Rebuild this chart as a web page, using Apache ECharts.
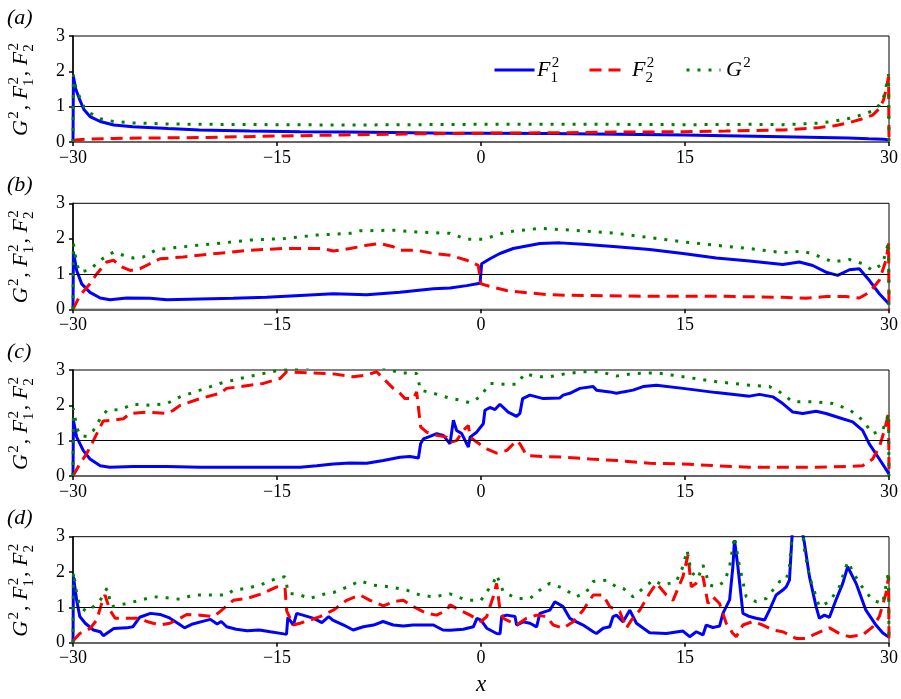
<!DOCTYPE html>
<html><head><meta charset="utf-8">
<script src="https://cdn.jsdelivr.net/npm/echarts@6/dist/echarts.min.js"></script>
<style>html,body{margin:0;padding:0;background:#fff}#c{width:901px;height:699px}</style>
</head><body><div id="c"></div>
<script>
// ---------------- data ----------------
const panelLabels = ['(a)', '(b)', '(c)', '(d)'];
const seriesNames = ['F1', 'F2', 'G'];
const xMin = -30, xMax = 30, xStep = 15;
const yMin = 0, yMax = 3, yStep = 1;
const refLine = 1;

// panel (a)
const aF1 = [[-30,0],[-29.97,1.85],[-29.8,1.5],[-29.5,1.19],[-29.2,0.92],[-28.75,0.72],[-28,0.58],[-27,0.48],[-25.6,0.43],[-23,0.38],[-20.7,0.34],[-17,0.31],[-13.3,0.29],[-10,0.28],[-5,0.26],[-2.3,0.25],[0,0.25],[5,0.24],[10,0.22],[14.9,0.2],[18,0.18],[22.2,0.15],[25,0.13],[27,0.11],[28.5,0.09],[29.6,0.08],[30,0.06]];
const aF2 = [[-30,0.02],[-29.8,0.06],[-29,0.08],[-27,0.1],[-25,0.11],[-20,0.13],[-15,0.17],[-10,0.2],[-5,0.23],[0,0.25],[5,0.26],[10,0.28],[14.9,0.29],[18,0.31],[22.2,0.34],[24.7,0.4],[26,0.46],[27.1,0.55],[28,0.65],[28.8,0.76],[29.3,0.95],[29.6,1.19],[29.8,1.5],[29.97,1.85],[30,0]];
const aG = [[-30,0],[-29.97,1.9],[-29.8,1.56],[-29.5,1.26],[-29.2,1.0],[-28.75,0.82],[-28,0.66],[-27,0.58],[-25.6,0.54],[-23,0.51],[-20,0.5],[-15,0.49],[-10,0.48],[-5,0.49],[0,0.5],[5,0.5],[10,0.5],[15,0.49],[20,0.5],[22.2,0.49],[24.7,0.53],[26,0.59],[27.1,0.67],[28,0.77],[28.8,0.88],[29.3,1.05],[29.6,1.27],[29.8,1.58],[29.97,1.92],[30,0]];

// panel (b)
const bF1 = [[-30,0],[-29.97,1.62],[-29.73,1.1],[-29.36,0.72],[-28.75,0.48],[-28,0.32],[-27.28,0.27],[-26.05,0.32],[-24.34,0.31],[-23.1,0.27],[-20.66,0.29],[-18.21,0.31],[-15.76,0.34],[-13.3,0.39],[-10.86,0.44],[-8.4,0.41],[-5.96,0.48],[-3.5,0.58],[-2.28,0.6],[-1.05,0.67],[-0.07,0.74],[0.05,1.29],[0.66,1.43],[1.39,1.58],[2.37,1.72],[3.35,1.79],[4.33,1.86],[5.8,1.88],[7.51,1.84],[9.96,1.77],[12.4,1.69],[14.85,1.58],[17.3,1.45],[19.75,1.37],[22.19,1.27],[23.41,1.34],[24.39,1.24],[25.37,1.05],[26.23,0.96],[27.09,1.12],[27.82,1.15],[28.55,0.82],[29.29,0.44],[30,0.15]];
const bF2 = [[-30,0],[-29.5,0.39],[-28.75,0.72],[-28.26,1.0],[-27.52,1.34],[-27.03,1.39],[-26.42,1.2],[-25.8,1.1],[-25.07,1.15],[-24.34,1.29],[-23.6,1.43],[-21.9,1.48],[-19.44,1.58],[-16.99,1.67],[-14.53,1.72],[-11.6,1.72],[-10.86,1.65],[-9.63,1.72],[-8.4,1.81],[-7.43,1.86],[-6.45,1.77],[-5.96,1.67],[-4.73,1.67],[-3.5,1.58],[-2.28,1.53],[-1.05,1.39],[-0.2,1.24],[0,0.72],[0.66,0.65],[1.88,0.53],[3.35,0.47],[5.06,0.41],[7.51,0.39],[12.4,0.37],[17.3,0.37],[22.19,0.34],[23.9,0.31],[25.37,0.36],[26.84,0.36],[27.82,0.32],[28.55,0.48],[29.29,0.82],[29.78,1.39],[29.97,1.86],[30,0]];
const bG = [[-30,0],[-29.97,1.86],[-29.73,1.29],[-29.5,1.05],[-28.75,1.12],[-28,1.39],[-27.03,1.62],[-26.3,1.53],[-25.56,1.45],[-24.83,1.48],[-23.85,1.69],[-21.9,1.77],[-19.44,1.86],[-16.99,1.96],[-14.53,2.0],[-12.08,2.1],[-9.63,2.15],[-8.9,2.22],[-6.45,2.24],[-4.73,2.19],[-2.28,2.15],[-1.05,1.98],[0.17,1.98],[1.88,2.19],[4.33,2.29],[7.51,2.22],[9.96,2.15],[12.4,2.03],[14.85,1.91],[17.3,1.81],[19.75,1.72],[22.19,1.6],[23.66,1.65],[24.64,1.53],[25.87,1.34],[27.09,1.41],[28.06,1.29],[28.8,1.1],[29.53,1.29],[29.97,1.9],[30,0]];

// panel (c)
const cF1 = [[-30,0],[-29.97,1.58],[-29.73,1.1],[-29.24,0.72],[-28.75,0.48],[-28,0.29],[-27.3,0.25],[-25.56,0.27],[-23.1,0.27],[-20.66,0.25],[-18.2,0.25],[-15.76,0.25],[-13.3,0.25],[-12.08,0.29],[-10.86,0.34],[-9.63,0.37],[-8.4,0.36],[-7.18,0.44],[-5.96,0.53],[-5.22,0.55],[-4.6,0.51],[-4.44,0.91],[-4.24,1.05],[-3.75,1.12],[-3.26,1.2],[-2.77,1.15],[-2.28,0.91],[-2.03,1.58],[-1.79,1.29],[-1.42,1.2],[-0.93,0.82],[-0.8,1.1],[-0.32,1.24],[0.17,1.48],[0.29,1.86],[0.66,1.94],[1.03,1.88],[1.39,2.03],[2.0,1.81],[2.62,1.69],[2.86,1.77],[3.06,2.19],[3.6,2.29],[4.58,2.19],[5.8,2.21],[6.04,2.29],[6.53,2.34],[7.27,2.48],[8.25,2.53],[8.49,2.43],[9.47,2.38],[9.96,2.34],[10.45,2.38],[11.18,2.43],[11.92,2.53],[12.9,2.57],[14.85,2.48],[17.3,2.36],[19.75,2.26],[20.48,2.31],[21.46,2.24],[22.19,2.05],[22.93,1.81],[23.66,1.77],[24.64,1.83],[25.37,1.77],[26.35,1.65],[27.33,1.53],[28.06,1.29],[28.55,0.91],[29.29,0.48],[30,0.06]];
const cF2 = [[-30,0],[-29.5,0.34],[-29,0.63],[-28.5,1.0],[-28,1.39],[-27.77,1.56],[-27.03,1.58],[-26.3,1.62],[-25.8,1.77],[-24.58,1.81],[-23.1,1.77],[-22.62,1.86],[-22.13,2.0],[-20.66,2.19],[-19.19,2.34],[-18.7,2.48],[-17.7,2.53],[-16,2.62],[-14.78,2.76],[-14.29,2.95],[-12.8,2.92],[-10.86,2.89],[-9.39,2.81],[-8.4,2.86],[-7.67,2.95],[-7.18,2.76],[-6.45,2.48],[-5.96,2.34],[-5.59,2.19],[-4.98,2.19],[-4.73,2.38],[-4.44,1.39],[-4,1.24],[-3.26,1.15],[-2.52,1.1],[-2.28,0.95],[-1.79,1.0],[-1.3,1.29],[-0.93,1.43],[-0.8,1.1],[-0.32,0.96],[0.42,0.77],[1.15,0.65],[1.88,0.72],[2.62,1.0],[2.86,0.91],[3.35,0.58],[4.58,0.55],[6.29,0.53],[8,0.48],[9.96,0.44],[12.4,0.36],[14.85,0.34],[17.3,0.29],[19.75,0.25],[22.19,0.25],[24.64,0.25],[27.09,0.27],[28.06,0.29],[28.8,0.48],[29.29,0.82],[29.66,1.29],[29.97,1.77],[30,0]];
const cG = [[-30,0],[-29.97,1.91],[-29.73,1.39],[-29.5,1.15],[-29,1.12],[-28.5,1.29],[-28,1.62],[-27.5,1.86],[-26.54,1.88],[-25.56,2.03],[-24.34,2.0],[-23.1,2.05],[-22.13,2.24],[-20.66,2.43],[-19.19,2.62],[-17.72,2.76],[-16.25,2.88],[-15.02,2.98],[-13.3,3.05],[-11,3.15],[-9,3.15],[-7.5,3.1],[-6.69,3.0],[-5.96,2.92],[-4.73,2.9],[-4.44,2.43],[-3.5,2.34],[-2.28,2.2],[-1.54,2.15],[-0.8,2.07],[-0.07,2.24],[0.66,2.62],[1.64,2.6],[2.62,2.6],[3.23,2.9],[4.09,2.81],[5.06,2.81],[6.29,2.9],[7.51,2.95],[8.74,2.95],[9.96,2.83],[11.18,2.9],[12.9,2.92],[14.85,2.81],[17.3,2.67],[19.75,2.57],[21.21,2.53],[21.95,2.38],[22.93,2.1],[24.64,2.1],[25.87,2.05],[27.09,1.88],[28.06,1.58],[28.8,1.2],[29.53,1.29],[29.97,1.77],[30,0]];

// panel (d)
const dF1 = [[-30,0],[-29.97,1.87],[-29.73,1.2],[-29.5,0.74],[-29.1,0.55],[-28.5,0.36],[-28,0.31],[-27.77,0.2],[-27,0.4],[-26.05,0.42],[-25.6,0.45],[-25.1,0.72],[-24.3,0.83],[-23.6,0.8],[-22.9,0.7],[-22.1,0.5],[-21.8,0.42],[-21.2,0.53],[-20.4,0.61],[-19.9,0.66],[-19.4,0.53],[-19.1,0.6],[-18.7,0.45],[-18,0.38],[-17.2,0.34],[-16.3,0.36],[-15.5,0.31],[-14.5,0.25],[-14.3,0.24],[-14.2,0.72],[-13.8,0.5],[-13.55,0.83],[-13.1,0.78],[-12.3,0.69],[-11.7,0.57],[-11.2,0.74],[-10.9,0.64],[-10.1,0.5],[-9.4,0.36],[-8.65,0.45],[-7.9,0.5],[-7.2,0.6],[-6.45,0.5],[-5.7,0.47],[-5,0.5],[-4.25,0.5],[-3.5,0.5],[-2.8,0.36],[-2.28,0.35],[-1.3,0.38],[-0.56,0.45],[-0.3,0.69],[0,0.64],[0.42,0.41],[1.15,0.26],[1.4,0.25],[1.52,0.74],[1.9,0.78],[2.5,0.74],[2.62,0.5],[3.1,0.59],[3.6,0.55],[4.09,0.45],[4.33,0.83],[5.06,0.92],[5.43,1.16],[6.04,1.02],[6.53,0.69],[7.02,0.59],[7.51,0.5],[8.25,0.31],[8.49,0.26],[8.98,0.41],[9.47,0.45],[9.71,0.74],[9.96,0.78],[10.45,0.59],[10.94,0.92],[11.43,0.55],[12.4,0.28],[13.63,0.26],[14.85,0.33],[15.34,0.17],[15.83,0.31],[16.32,0.22],[16.56,0.5],[17.05,0.43],[17.54,0.47],[17.79,0.83],[18.28,1.21],[18.52,2.15],[18.64,2.9],[18.89,2.15],[19.26,0.83],[19.75,0.74],[20.23,0.69],[20.85,0.64],[21.21,0.92],[21.7,1.35],[22.19,1.49],[22.44,1.58],[22.68,1.77],[22.9,3.2],[23.2,4.0],[23.6,3.2],[23.78,2.82],[24.15,1.87],[24.64,1.02],[24.88,0.69],[25.25,0.78],[25.62,0.72],[26.1,1.21],[26.6,1.68],[26.96,2.15],[27.58,1.68],[28.3,0.92],[29.04,0.5],[29.53,0.28],[30,0.15]];
const dF2 = [[-30,0.05],[-29.5,0.26],[-28.75,0.4],[-28.26,0.64],[-27.9,1.1],[-27.65,1.35],[-27.28,0.92],[-26.9,0.69],[-25.07,0.69],[-24.58,0.6],[-23.6,0.5],[-22.87,0.55],[-22.13,0.69],[-21.64,0.8],[-20.66,0.78],[-19.68,0.74],[-19.19,0.88],[-18.21,1.2],[-17.23,1.25],[-16,1.4],[-15.02,1.58],[-14.41,1.55],[-14.29,0.9],[-13.8,0.5],[-13.31,0.55],[-12.57,0.64],[-11.84,0.74],[-11.35,0.83],[-10.86,0.92],[-9.88,1.2],[-8.9,1.35],[-8.16,1.2],[-7.18,1.04],[-6.45,1.16],[-5.71,1.2],[-4.98,1.02],[-4,0.83],[-3.26,0.78],[-2.52,0.92],[-2.28,1.07],[-1.54,0.92],[-0.8,0.78],[0,0.6],[0.42,0.74],[0.9,1.3],[1.15,1.68],[1.4,0.92],[1.64,0.69],[2.62,0.5],[3.35,0.69],[4.09,0.78],[4.82,0.74],[5.31,0.5],[6.04,0.41],[6.78,0.59],[7.51,0.92],[8.25,1.35],[8.98,1.35],[9.47,1.02],[10.2,0.88],[10.69,0.41],[11.06,0.64],[11.67,0.92],[12.4,1.4],[12.9,1.68],[13.63,1.35],[14.12,1.2],[14.85,1.87],[15.22,2.48],[15.46,1.58],[15.83,1.68],[16.32,1.87],[16.69,1.11],[17.05,1.3],[17.54,1.11],[18.03,0.55],[18.52,0.26],[18.77,0.17],[19.26,0.5],[19.99,0.6],[20.72,0.5],[21.46,0.36],[22.19,0.31],[23.17,0.12],[23.9,0.12],[24.64,0.26],[25.62,0.42],[26.35,0.26],[27.09,0.17],[28.06,0.22],[28.8,0.45],[29.29,0.74],[29.78,1.4],[29.97,1.87],[30,0]];
const dG = [[-30,0],[-29.97,2.0],[-29.73,1.4],[-29.5,1.02],[-29,0.88],[-28.5,1.02],[-28,1.2],[-27.5,1.54],[-27.16,1.02],[-26.05,1.11],[-25.07,1.2],[-24.1,1.3],[-23.1,1.27],[-22.13,1.23],[-21.15,1.35],[-20.17,1.35],[-19.44,1.35],[-18.7,1.35],[-18.2,1.49],[-17.23,1.54],[-16.25,1.63],[-15.02,1.82],[-14.41,1.87],[-14.17,1.4],[-13.31,1.35],[-12.57,1.25],[-11.84,1.35],[-10.86,1.42],[-9.88,1.57],[-8.9,1.75],[-7.92,1.63],[-6.69,1.58],[-5.47,1.49],[-4.49,1.35],[-3.5,1.3],[-2.28,1.38],[-1.05,1.2],[0,1.2],[0.42,1.44],[0.9,1.68],[1.15,1.92],[1.64,1.44],[2.62,1.25],[3.6,1.25],[4.33,1.49],[5.06,1.68],[6.04,1.54],[7.02,1.3],[7.76,1.44],[8.25,1.73],[9.22,1.77],[9.96,1.58],[10.45,1.54],[11.18,1.3],[11.92,1.54],[12.65,1.77],[13.38,1.63],[14.36,1.73],[14.85,2.15],[15.15,2.62],[15.46,2.0],[15.95,1.82],[16.32,2.2],[16.81,1.63],[17.3,1.58],[17.91,1.73],[18.28,2.15],[18.64,3.0],[19.01,2.15],[19.5,1.3],[20.23,1.16],[20.97,1.25],[21.46,1.49],[21.95,1.73],[22.44,1.77],[22.68,2.15],[22.9,3.2],[23.2,4.1],[23.6,3.3],[23.78,2.62],[24.15,1.87],[24.88,1.02],[25.62,1.16],[26.35,1.58],[26.96,2.29],[27.82,1.68],[28.8,1.2],[29.53,1.11],[29.97,2.0],[30,0]];

const panels = [[aF1, aF2, aG], [bF1, bF2, bG], [cF1, cF2, cG], [dF1, dF2, dG]];

// ---------------- layout & style ----------------
const FONT = "'Liberation Serif', Tinos, 'Times New Roman', 'Nimbus Roman', serif";
const gridTops = [36, 203.3, 370, 536.7];
const gridH = 106, gridLeft = 73, gridRight = 12;
const styles = {
  F1: { color: '#0000ff', width: 3, type: 'solid' },
  F2: { color: '#ff0000', width: 3, type: [12, 7] },
  G:  { color: '#008000', width: 3, type: [3, 8] }
};

const ctx = document.createElement('canvas').getContext('2d');
function tw(t, font) { ctx.font = font; return ctx.measureText(t).width; }
function mathText(tokens, size) {
  const out = []; let x = 0;
  const mf = it => (it ? 'italic ' : '') + size + 'px ' + FONT;
  const ss = Math.round(size * 0.68);
  const sf = ss + 'px ' + FONT;
  const mid = s => -0.29 * s; // baseline -> middle offset
  function txt(t, f, px, baseY, s) {
    out.push({ type: 'text', x: px, y: baseY + mid(s),
      style: { text: t, font: f, fill: '#000', align: 'left', verticalAlign: 'middle', textAlign: 'left', textVerticalAlign: 'middle' } });
  }
  tokens.forEach(tok => {
    if (tok.t !== undefined) {
      const f = mf(tok.it); txt(tok.t, f, x, 0, size); x += tw(tok.t, f);
    } else {
      let w = 0;
      if (tok.sup) { txt(tok.sup, sf, x + size * 0.06, -size * 0.42, ss); w = Math.max(w, tw(tok.sup, sf) + size * 0.06); }
      if (tok.sub) { txt(tok.sub, sf, x + size * 0.0, size * 0.24, ss); w = Math.max(w, tw(tok.sub, sf)); }
      x += w + size * 0.04;
    }
  });
  return { children: out, width: x };
}

const yTitleTokens = [{ t: 'G', it: 1 }, { sup: '2' }, { t: ', ' }, { t: 'F', it: 1 }, { sup: '2', sub: '1' }, { t: ', ' }, { t: 'F', it: 1 }, { sup: '2', sub: '2' }];
const legendTokens = {
  F1: [{ t: 'F', it: 1 }, { sup: '2', sub: '1' }],
  F2: [{ t: 'F', it: 1 }, { sup: '2', sub: '2' }],
  G: [{ t: 'G', it: 1 }, { sup: '2' }]
};

const grids = [], xAxes = [], yAxes = [], series = [], graphics = [];
const minus = v => v < 0 ? '\u2212' + (-v) : String(v);

panels.forEach((p, i) => {
  grids.push({ left: gridLeft, right: gridRight, top: gridTops[i], height: gridH, show: true, borderColor: '#000', borderWidth: 1, backgroundColor: 'transparent' });
  const xa = {
    gridIndex: i, type: 'value', min: xMin, max: xMax, interval: xStep,
    axisLine: { show: true, onZero: false, lineStyle: { color: '#666', width: 2 } },
    axisTick: { show: true, length: 4, lineStyle: { color: '#000', width: 1.5 } },
    axisLabel: { fontFamily: FONT, fontSize: 18, color: '#000', margin: 7, formatter: minus },
    splitLine: { show: false }
  };
  if (i === panels.length - 1) {
    xa.name = 'x'; xa.nameLocation = 'middle'; xa.nameGap = 31;
    xa.nameTextStyle = { fontFamily: FONT, fontStyle: 'italic', fontSize: 23, color: '#000' };
  }
  xAxes.push(xa);
  yAxes.push({
    gridIndex: i, type: 'value', min: yMin, max: yMax, interval: yStep,
    axisLine: { show: true, onZero: false, lineStyle: { color: '#000', width: 1.5 } },
    axisTick: { show: true, length: 4, lineStyle: { color: '#000', width: 1.5 } },
    axisLabel: { fontFamily: FONT, fontSize: 18, color: '#000', margin: 8 },
    splitLine: { show: false }
  });
  p.forEach((data, k) => {
    const name = seriesNames[k];
    const s = {
      type: 'line', name, data, xAxisIndex: i, yAxisIndex: i,
      symbol: 'none', showSymbol: false, clip: true, silent: true,
      lineStyle: Object.assign({}, styles[name]), itemStyle: { color: styles[name].color },
      z: 3 + k
    };
    if (k === 0) {
      s.markLine = { silent: true, symbol: ['none', 'none'], label: { show: false },
        lineStyle: { color: '#000', width: 1, type: 'solid' }, data: [{ yAxis: refLine }], animation: false };
    }
    series.push(s);
  });
  // panel label
  graphics.push({ type: 'text', left: 7, top: gridTops[i] - 29,
    style: { text: panelLabels[i], font: 'italic 22px ' + FONT, fill: '#000' } });
  // y title (rotated)
  const yt = mathText(yTitleTokens, 22);
  yt.children.forEach(c => { c.x -= yt.width / 2; });
  graphics.push({ type: 'group', x: 28, y: gridTops[i] + gridH / 2, rotation: Math.PI / 2, children: yt.children });
});

// legend
const legendPos = { F1: [493, 40, 537], F2: [588, 36, 632], G: [685, 34, 726] };
const legends = seriesNames.map(n => ({
  data: [n], left: legendPos[n][0], top: 63, itemWidth: legendPos[n][1], itemHeight: 14,
  formatter: () => '', selectedMode: false, padding: 0, itemGap: 0,
  itemStyle: { opacity: 0, borderWidth: 0 },
  lineStyle: { width: 3 }, textStyle: { fontSize: 1 }
}));
seriesNames.forEach(n => {
  const m = mathText(legendTokens[n], 22);
  graphics.push({ type: 'group', x: legendPos[n][2], y: 77, children: m.children });
});

const chart = echarts.init(document.getElementById('c'), null, { renderer: 'canvas' });
chart.setOption({
  animation: false,
  backgroundColor: '#fff',
  grid: grids, xAxis: xAxes, yAxis: yAxes, series, legend: legends, graphic: graphics
});
</script></body></html>
